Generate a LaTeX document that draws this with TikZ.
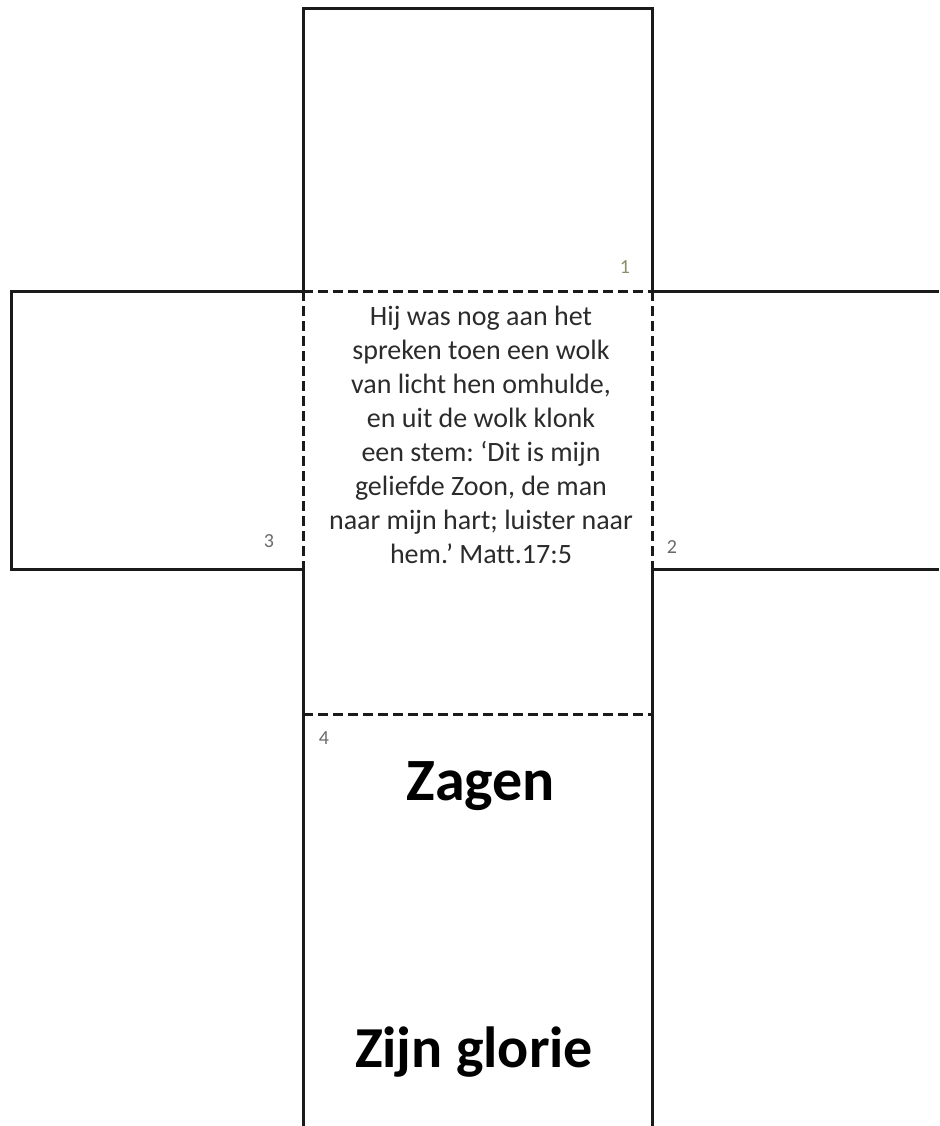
\documentclass[tikz,border=0pt]{standalone}
\usepackage{fontspec}
\setmainfont{Carlito}[Ligatures=CommonOff]
\usetikzlibrary{positioning}
\definecolor{cLine}{HTML}{1A1A1A}
\definecolor{cText}{HTML}{2B2B2B}
\definecolor{cNum}{HTML}{6A6A6A}
\definecolor{cNumA}{HTML}{8A8E66}

\begin{document}
\frenchspacing
\begin{tikzpicture}[
  x=1pt,y=-1pt,
  cut/.style={draw=cLine,line width=3pt,line join=miter},
  fold/.style={draw=cLine,line width=3pt,dash pattern=on 10pt off 5pt},
  num/.style={text=#1,font=\fontsize{20}{22}\selectfont,inner sep=0pt,anchor=base},
  verse/.style={text=cText,font=\fontsize{28}{34}\selectfont,align=center,inner sep=0pt,anchor=north},
  title/.style={text=black,font=\fontsize{#1}{62}\selectfont\bfseries,inner sep=0pt,anchor=base}
]
\useasboundingbox (0,0) rectangle (939,1126);

%======================= OUTLINE (cut lines) =======================
\draw[cut] (303,1126) -- (303,569) -- (11,569) -- (11,291) -- (303,291)
  -- (303,9) -- (652,9) -- (652,291) -- (939,291);
\draw[cut] (939,569) -- (652,569) -- (652,1126);

%======================= FOLD LINES (dashed) =======================
\draw[fold] (303,291) -- (652,291);
\draw[fold] (303,291) -- (303,569);
\draw[fold] (652,291) -- (652,569);
\draw[fold] (303,714) -- (652,714);

%======================= TEXTS =======================
\node[verse] (vers) at (481,306)
  {Hij was nog aan het\\spreken toen een wolk\\van licht hen omhulde,\\en uit de wolk klonk\\een stem: ‘Dit is mijn\\geliefde Zoon, de man\\naar mijn hart; luister naar\\hem.’ Matt.17:5};
\node[title=60] (zagen) at (481,800) {Zagen};
\node[title=58] (glorie) at (474,1067) {Zijn glorie};

%======================= FACE NUMBERS =======================
\node[num=cNumA] (n1) at (625,273) {1};
\node[num=cNum] (n2) at (672,553) {2};
\node[num=cNum] (n3) at (269,547) {3};
\node[num=cNum] (n4) at (324,744) {4};

\end{tikzpicture}
\end{document}
